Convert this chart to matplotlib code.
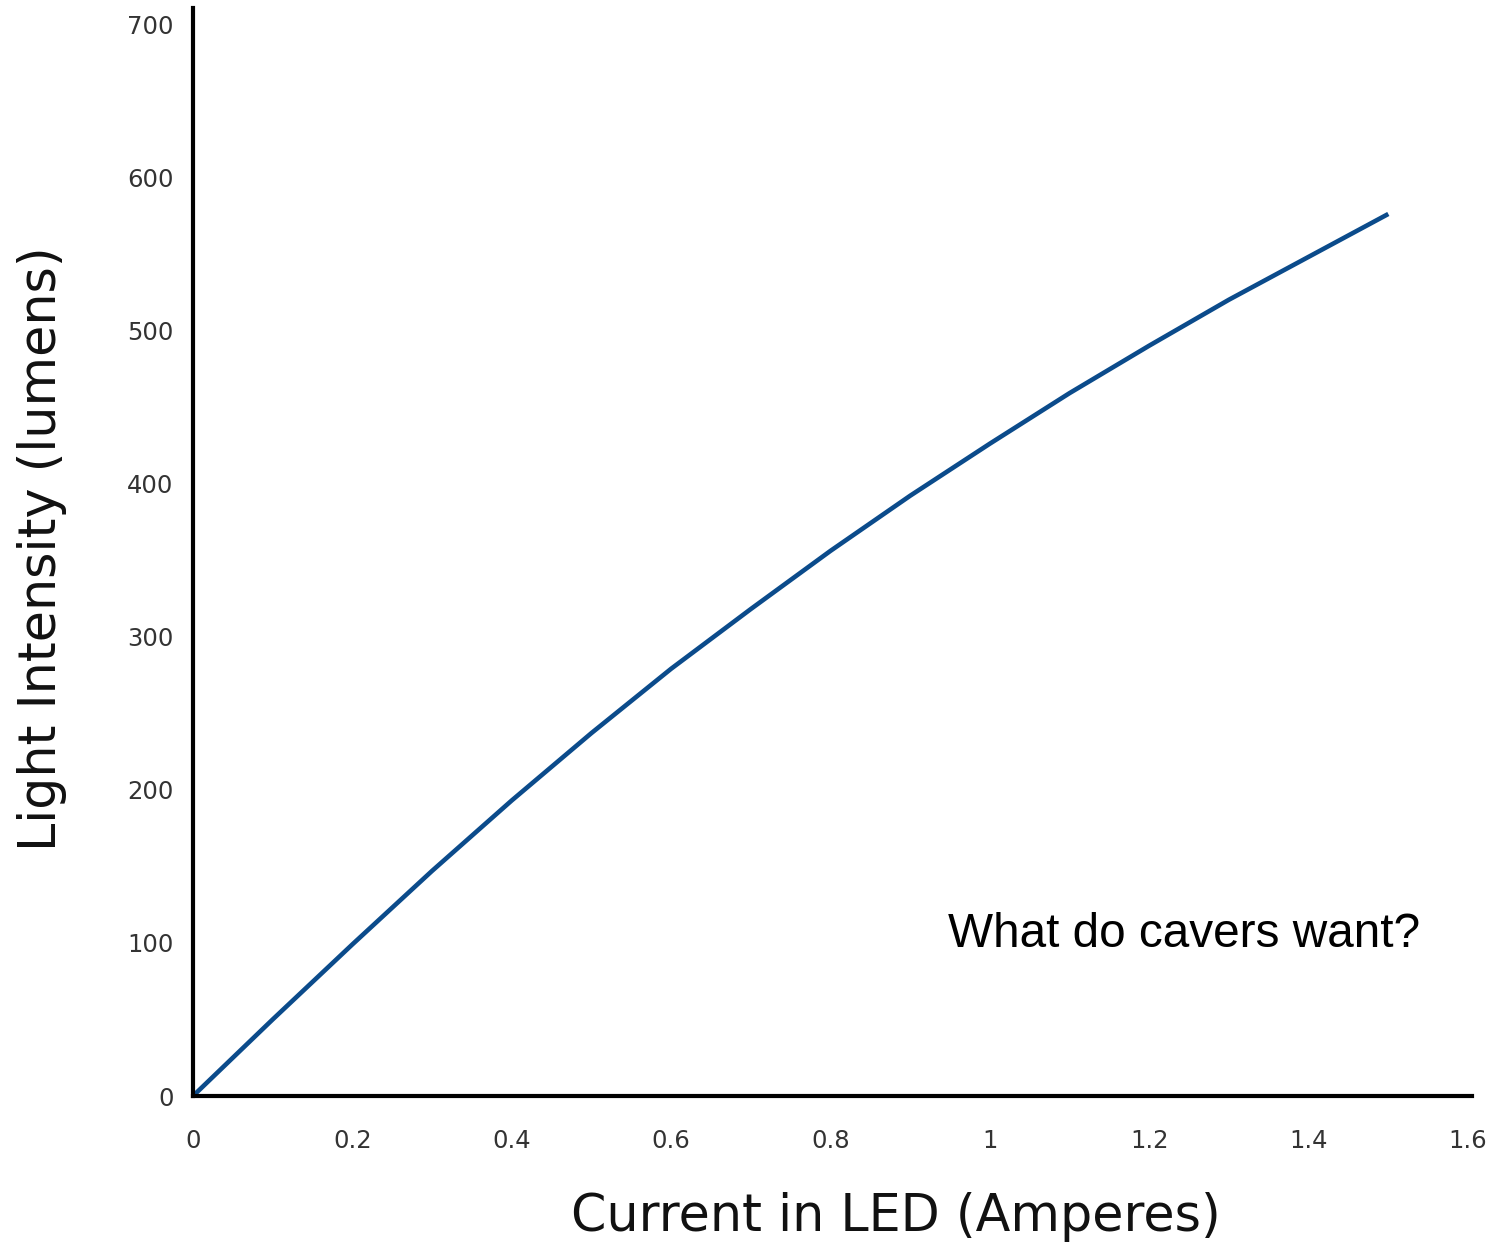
import matplotlib
matplotlib.use("Agg")
import matplotlib.pyplot as plt

current = [0.0, 0.1, 0.2, 0.3, 0.4, 0.5, 0.6, 0.7, 0.8, 0.9, 1.0, 1.1, 1.2, 1.3, 1.4, 1.5]
lumens = [0, 50, 99, 147, 193, 237, 279, 318, 356, 392, 426, 459, 490, 520, 548, 576]
xticks = [0, 0.2, 0.4, 0.6, 0.8, 1, 1.2, 1.4, 1.6]
xticklabels = ["0", "0.2", "0.4", "0.6", "0.8", "1", "1.2", "1.4", "1.6"]
yticks = [0, 100, 200, 300, 400, 500, 600, 700]

fig = plt.figure(figsize=(14.96, 12.47), dpi=100)
ax = fig.add_axes([193/1496, (1247-1096)/1247, (1468-193)/1496, (1096-8)/1247])
ax.plot(current, lumens, color="#0b4b8b", linewidth=3.3, solid_capstyle="butt",
        solid_joinstyle="round")
ax.set_xlim(0, 1.6)
ax.set_ylim(0, 710.5)
ax.set_xticks(xticks)
ax.set_xticklabels(xticklabels)
ax.set_yticks(yticks)
for s in ["top", "right"]:
    ax.spines[s].set_visible(False)
for s in ["left", "bottom"]:
    ax.spines[s].set_linewidth(3)
    ax.spines[s].set_color("black")
ax.spines["bottom"].set_bounds(0, 1.605)
ax.tick_params(axis="x", length=0, pad=24, labelsize=17.5, labelcolor="#333333")
ax.tick_params(axis="y", length=0, pad=14, labelsize=17.5, labelcolor="#333333")
ax.set_xlabel("Current in LED (Amperes)", fontsize=36.5, color="#111111")
ax.set_ylabel("Light Intensity (lumens)", fontsize=36.5, color="#111111")
ax.xaxis.set_label_coords(0.551, -0.111)
ax.xaxis.label.set_va("center")
ax.yaxis.set_label_coords(-0.1184, 0.503)
ax.yaxis.label.set_va("center")
ax.yaxis.label.set_ha("center")
ax.text(0.947, 97, "What do cavers want?", fontsize=34.4, family="Liberation Sans",
        ha="left", va="baseline", color="black")
fig.savefig("out.png", dpi=100)
